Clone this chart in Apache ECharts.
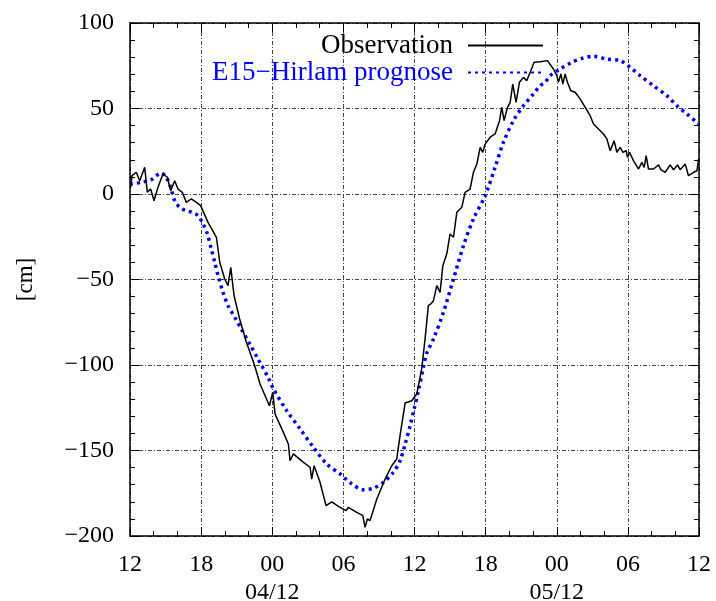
<!DOCTYPE html>
<html>
<head>
<meta charset="utf-8">
<script src="https://cdn.jsdelivr.net/npm/echarts@6/dist/echarts.min.js"></script>
<style>
  html, body { margin: 0; padding: 0; background: #fff; }
  #chart { width: 716px; height: 601px; }
</style>
</head>
<body>
<div id="chart"></div>
<script>
// water level, hours after 03/12 12:00
var obsHours = [0.06, 0.17, 0.53, 0.82, 1.24, 1.46, 1.74, 2.03, 2.36, 2.78, 3.15, 3.43, 3.77, 4.05, 4.41, 4.75,
  5.17, 5.6, 5.96, 6.58, 7.29, 7.57, 7.99, 8.27, 8.5, 8.78, 9.25, 9.82, 10.52, 10.97, 11.76, 12.04, 12.24,
  12.94, 13.36, 13.5, 13.78, 14.63, 15.19, 15.33, 15.53, 16.03, 16.54, 17.02, 17.58, 18.23, 18.42, 19.13,
  19.64, 19.83, 20.03, 20.25, 20.82, 21.52, 22.08, 22.5, 22.78, 23.21, 23.77, 24.19, 24.61, 24.89, 25.17,
  25.37, 25.6, 25.88, 26.16, 26.39, 26.72, 27.0, 27.29, 27.57, 27.99, 28.27, 28.69, 28.97, 29.26, 29.54,
  29.76, 29.96, 30.38, 30.8, 31.17, 31.36, 31.56, 31.84, 32.07, 32.29, 32.57, 32.85, 33.19, 33.47, 33.76,
  34.09, 34.6, 35.21, 35.72, 36.01, 36.14, 36.35, 36.51, 36.71, 36.9, 37.19, 37.55, 37.97, 38.4, 38.82,
  39.1, 39.52, 39.94, 40.23, 40.51, 40.65, 40.84, 41.07, 41.35, 41.58, 41.86, 41.97, 42.14, 42.47, 42.9,
  43.18, 43.38, 43.54, 43.74, 44.16, 44.59, 44.78, 45.15, 45.57, 45.85, 46.19, 46.41, 46.84, 47.11, 47.54,
  47.83, 47.97];
var obsValues = [3.9, 10.7, 12.7, 7.8, 15.6, 1, 2.9, -3.9, 3.9, 11.7, 9.8, 1.9, 7.8, 2.9, 1, -4.9,
  -2.9, -4.9, -6.8, -16.6, -25.3, -39.9, -49.7, -53.6, -42.9, -59.5, -73.1, -86.7, -100.4, -111.1, -123.8, -116, -128.7,
  -139.4, -146.2, -156, -152, -156.9, -159.8, -166.7, -158.9, -168.6, -182.3, -180, -182.7, -185.2, -183.2, -186.2,
  -188.1, -194.9, -190, -191, -178.4, -166.7, -158.9, -155, -141.3, -122.2, -120.9, -117, -102.3, -84.8, -65.3,
  -64.3, -62.4, -53.6, -57.5, -41.9, -35.1, -23.4, -25.3, -10.7, -7.8, 1, 2.9, 12.7, 17.5, 27.3,
  24.4, 29.2, 33.2, 35.1, 42.9, 50.7, 42.9, 50.7, 53.6, 64.3, 53.6, 65.3, 68.2, 66.3, 71.2,
  77, 77.4, 78, 73.1, 69.2, 65.3, 70.2, 64.3, 70.2, 65.3, 60.4, 59.5, 55.6, 50.7, 45.8,
  40.9, 38, 35.1, 32.2, 25.3, 24.4, 31.2, 24.4, 27.3, 24.4, 25.3, 21.4, 24.4, 19.5, 14.6,
  18.5, 15.6, 22.4, 14.6, 14.6, 17, 14.2, 12.7, 17, 14.2, 17, 14.2, 17.5, 10.7, 12.7,
  13.6, 20.5];

var progHours = [0, 0.95, 1.8, 2.64, 3.06, 3.43, 3.77, 4.19, 4.75, 5.23, 5.74, 6.16, 6.53, 6.86, 7.15, 7.43,
  7.85, 8.27, 8.84, 9.39, 10.1, 10.8, 11.11, 11.65, 12.1, 13.22, 14.35, 15.47, 16.6, 17.72, 18.71, 19.69,
  20.53, 21.38, 22.22, 22.78, 23.21, 23.63, 23.97, 24.33, 24.75, 25.04, 25.6, 26.44, 27.29, 28.13, 28.97,
  29.96, 30.8, 31.5, 32.35, 33.19, 34.03, 34.6, 35.02, 35.44, 36.29, 37.27, 38.12, 39.1, 40.23, 41.35,
  42.19, 43.04, 44.16, 45.29, 46.14, 46.98, 47.83, 48];
var progValues = [5.8, 6.8, 8.4, 12.3, 9.8, 3.9, -3.9, -7.8, -9.8, -10.7, -12.7, -17.5, -23.4, -32.2, -39.9, -47.8,
  -57.5, -65.3, -72.1, -79, -87.7, -96.5, -100.4, -107.2, -114, -126.7, -137.4, -148.1, -157.9, -163.7, -169.6, -172.9,
  -172.1, -168.6, -162.7, -156, -146.2, -135.5, -125.7, -115, -101.3, -93, -84.8, -69.2, -49.7, -30.2, -14.6,
  -1, 15.6, 30.2, 42.9, 51.6, 58.5, 63.3, 65.3, 69.2, 73.1, 77, 79.3, 80.5, 78.9, 78,
  74.1, 69.2, 63.3, 57.5, 51.6, 46.8, 41.9, 41];

var xTickLabels = ['12', '18', '00\n04/12', '06', '12', '18', '00\n05/12', '06', '12'];
var seriesNames = ['Observation', 'E15\u2212Hirlam prognose'];

function zip(xs, ys) {
  return xs.map(function (x, i) { return [x, ys[i]]; });
}

var serif = "'Liberation Serif', 'DejaVu Serif', serif";

var tickStyle = {
  axisLine: { show: true, onZero: false, lineStyle: { color: '#000', width: 1.5 } },
  axisTick: { show: true, inside: true, length: 9, lineStyle: { color: '#000', width: 1 } }
};

function mirrorAxis(base, pos, split) {
  return Object.assign({
    type: 'value',
    position: pos,
    min: base.min,
    max: base.max,
    interval: base.interval,
    axisLabel: { show: false },
    splitLine: { show: false }
  }, tickStyle, { minorTick: { show: true, splitNumber: split, length: 5, lineStyle: { color: '#000' } } });
}

var xBase = { min: 0, max: 48, interval: 6 };
var yBase = { min: -200, max: 100, interval: 50 };

var gridLine = { show: true, lineStyle: { color: '#444', width: 1, type: [4, 2, 1, 2] } };

var chart = echarts.init(document.getElementById('chart'));
chart.setOption({
  animation: false,
  backgroundColor: '#fff',
  textStyle: { fontFamily: serif },
  grid: { left: 130, right: 17, top: 23, bottom: 65, containLabel: false, outerBoundsMode: 'none' },
  legend: {
    orient: 'vertical',
    right: 172,
    top: 32,
    padding: 0,
    align: 'right',
    itemWidth: 75,
    itemHeight: 14,
    itemGap: 0,
    itemStyle: { opacity: 0 },
    textStyle: { fontFamily: serif, fontSize: 27, lineHeight: 27, color: '#000', padding: [0, 10, 0, 0] },
    data: [
      { name: seriesNames[0], textStyle: { color: '#000' } },
      { name: seriesNames[1], textStyle: { color: '#0000ff' } }
    ]
  },
  xAxis: [
    Object.assign({
      type: 'value',
      min: xBase.min,
      max: xBase.max,
      interval: xBase.interval,
      splitLine: gridLine,
      axisLabel: {
        fontFamily: serif,
        fontSize: 24,
        color: '#000',
        lineHeight: 28,
        margin: 15,
        formatter: function (v) { return xTickLabels[Math.round(v / 6)]; }
      }
    }, tickStyle, { minorTick: { show: true, splitNumber: 3, length: 5, lineStyle: { color: '#000' } } }),
    mirrorAxis(xBase, 'top', 3)
  ],
  yAxis: [
    Object.assign({
      type: 'value',
      min: yBase.min,
      max: yBase.max,
      interval: yBase.interval,
      name: '[cm]',
      nameLocation: 'middle',
      nameRotate: 90,
      nameGap: 93,
      nameTextStyle: { fontFamily: serif, fontSize: 23, color: '#000' },
      splitLine: gridLine,
      axisLabel: {
        fontFamily: serif,
        fontSize: 24,
        color: '#000',
        margin: 16,
        formatter: function (v) { return String(v).replace('-', '\u2212'); }
      }
    }, tickStyle, { minorTick: { show: true, splitNumber: 5, length: 5, lineStyle: { color: '#000' } } }),
    mirrorAxis(yBase, 'right', 5)
  ],
  series: [
    {
      name: seriesNames[0],
      type: 'line',
      showSymbol: false,
      symbol: 'none',
      data: zip(obsHours, obsValues),
      lineStyle: { color: '#000', width: 1.5 },
      itemStyle: { color: '#000' },
      z: 3
    },
    {
      name: seriesNames[1],
      type: 'line',
      showSymbol: false,
      symbol: 'none',
      smooth: 0.3,
      data: zip(progHours, progValues),
      lineStyle: { color: '#0000ff', width: 3.5, type: [3, 4] },
      itemStyle: { color: '#0000ff' },
      z: 2
    }
  ]
});
</script>
</body>
</html>
